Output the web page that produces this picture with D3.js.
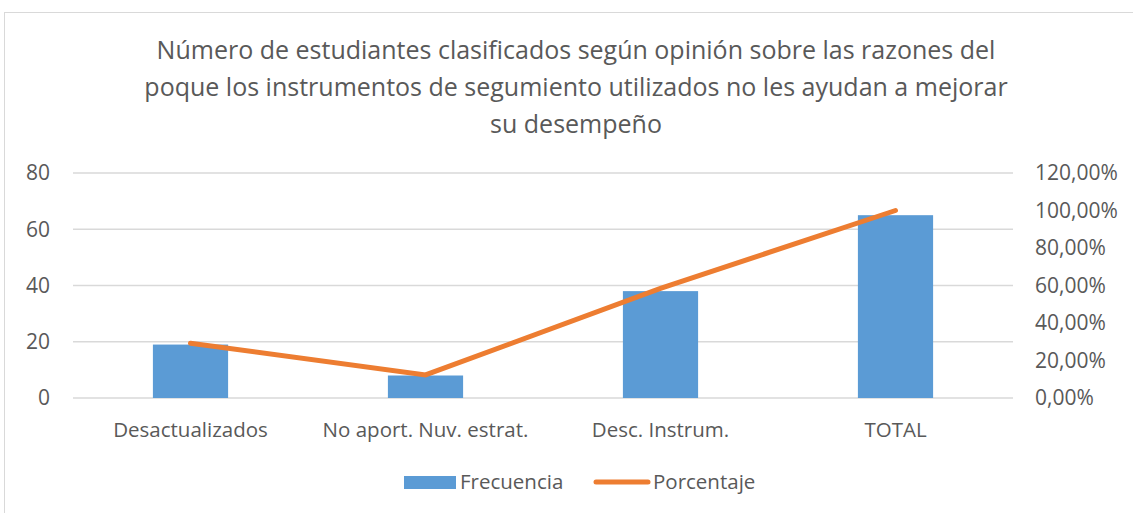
<!DOCTYPE html>
<html><head><meta charset="utf-8">
<script src="https://cdn.jsdelivr.net/npm/d3@7"></script>
<style>body{margin:0;background:#fff}svg{display:block}text{font-family:"Open Sans","Noto Sans",sans-serif;fill:#595959}</style>
</head><body><svg id="c" width="1133" height="513"></svg>
<script>
const categories = ["Desactualizados","No aport. Nuv. estrat.","Desc. Instrum.","TOTAL"];
const frecuencia = [19, 8, 38, 65];
const porcentaje = [0.2923, 0.1231, 0.5846, 1.0];
const leftTicks = [0, 20, 40, 60, 80];
const rightTicks = [0, 0.2, 0.4, 0.6, 0.8, 1.0, 1.2];
const titleLines = ["Número de estudiantes clasificados según opinión sobre las razones del","poque los instrumentos de segumiento utilizados no les ayudan a mejorar","su desempeño"];

const svg = d3.select("#c");
svg.append("rect").attr("x",4.5).attr("y",12.5).attr("width",1140).attr("height",510)
  .attr("fill","#fff").attr("stroke","#D9D9D9");

const x0=73,x1=1013,yTop=173,yBot=398;
const x = d3.scaleBand().domain(categories).range([x0,x1]).paddingInner(0.68).paddingOuter(0.34);
const xc = d3.scaleBand().domain(categories).range([x0,x1]);
const yL = d3.scaleLinear().domain([0,80]).range([yBot,yTop]);
const yR = d3.scaleLinear().domain([0,1.2]).range([yBot,yTop]);

const t = svg.append("text").attr("text-anchor","middle").style("font-size","25px");
titleLines.forEach((l,i)=>t.append("tspan").attr("x",576).attr("y",59+i*37).text(l));

svg.append("g").selectAll("line").data(leftTicks).join("line")
  .attr("x1",x0).attr("x2",x1).attr("y1",d=>yL(d)).attr("y2",d=>yL(d))
  .attr("stroke","#D9D9D9").attr("stroke-width",1.5);

svg.append("g").selectAll("text").data(leftTicks).join("text")
  .attr("x",50).attr("y",d=>yL(d)).attr("dy","0.35em").attr("text-anchor","end")
  .style("font-size","21px").text(d=>d);

const fmt = d=>d3.format(".2f")(d*100).replace(".",",")+"%";
svg.append("g").selectAll("text").data(rightTicks).join("text")
  .attr("x",1035).attr("y",d=>yR(d)).attr("dy","0.35em").attr("text-anchor","start")
  .style("font-size","21px").text(fmt);

svg.append("g").selectAll("rect").data(frecuencia).join("rect")
  .attr("x",(d,i)=>x(categories[i])).attr("width",x.bandwidth())
  .attr("y",d=>yL(d)).attr("height",d=>yBot-yL(d)).attr("fill","#5B9BD5");

svg.append("path").datum(porcentaje)
  .attr("d",d3.line().x((d,i)=>xc(categories[i])+xc.bandwidth()/2).y(d=>yR(d)))
  .attr("fill","none").attr("stroke","#ED7D31").attr("stroke-width",5).attr("stroke-linecap","round");

svg.append("g").selectAll("text").data(categories).join("text")
  .attr("x",d=>xc(d)+xc.bandwidth()/2).attr("y",437).attr("text-anchor","middle")
  .style("font-size","20.5px").text(d=>d);

const lg = svg.append("g");
lg.append("rect").attr("x",404).attr("y",476).attr("width",52).attr("height",13).attr("fill","#5B9BD5");
lg.append("text").attr("x",460).attr("y",489).style("font-size","20.5px").text("Frecuencia");
lg.append("line").attr("x1",596).attr("x2",648).attr("y1",482).attr("y2",482)
  .attr("stroke","#ED7D31").attr("stroke-width",5).attr("stroke-linecap","round");
lg.append("text").attr("x",653).attr("y",489).style("font-size","20.5px").text("Porcentaje");
</script></body></html>
